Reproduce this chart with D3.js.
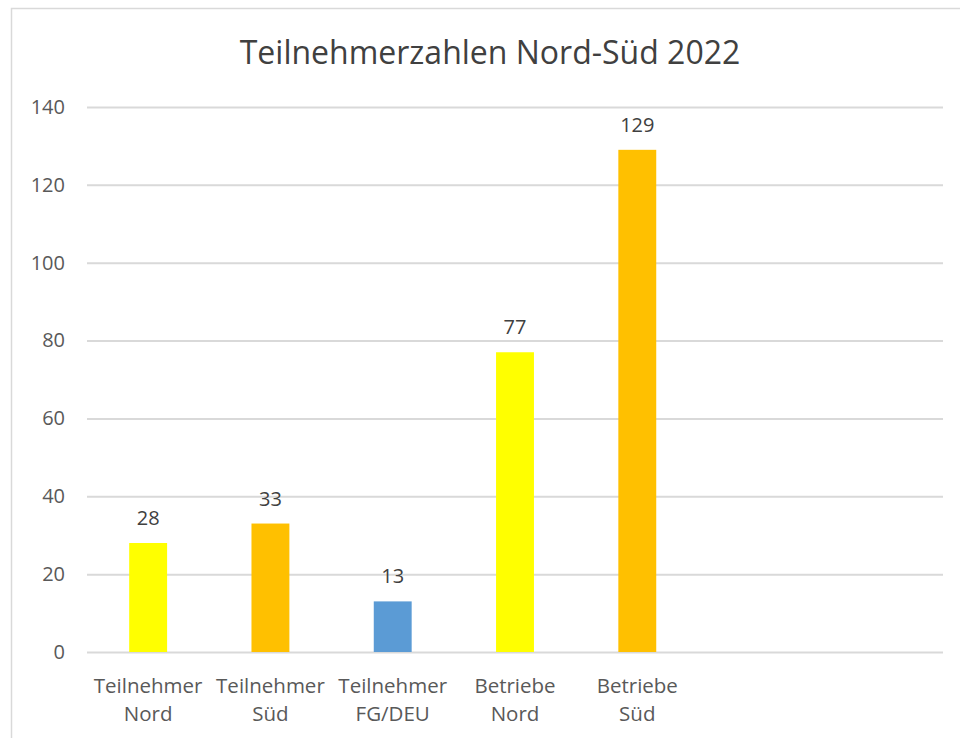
<!DOCTYPE html>
<html>
<head>
<meta charset="utf-8">
<script src="https://cdn.jsdelivr.net/npm/d3@7"></script>
<style>
  body { margin: 0; background: #fff; }
  svg { display: block; font-family: "Open Sans", sans-serif; }
</style>
</head>
<body>
<div id="chart"></div>
<script>
"use strict";

// categories (last two slots are empty in the original sheet)
const categories = ["Teilnehmer|Nord", "Teilnehmer|Süd", "Teilnehmer|FG/DEU", "Betriebe|Nord", "Betriebe|Süd", "", " "];
const values = [28, 33, 13, 77, 129, null, null];
const barColors = ["#FFFF00", "#FFC000", "#5B9BD5", "#FFFF00", "#FFC000", null, null];
const yTicks = [0, 20, 40, 60, 80, 100, 120, 140];
const title = "Teilnehmerzahlen Nord-Süd 2022";

const width = 960, height = 738;
const margin = { top: 107, right: 17, bottom: 86, left: 87 };
const plotW = width - margin.left - margin.right,
    plotH = height - margin.top - margin.bottom;

const svg = d3.select("#chart").append("svg")
    .attr("width", width)
    .attr("height", height);

// chart border
svg.append("rect")
    .attr("x", 11.5).attr("y", 8.5)
    .attr("width", 980).attr("height", 760)
    .attr("fill", "#fff")
    .attr("stroke", "#d9d9d9")
    .attr("stroke-width", 1.5);

svg.append("text")
    .attr("x", 490).attr("y", 64)
    .attr("text-anchor", "middle")
    .attr("font-size", 32)
    .attr("fill", "#404040")
    .text(title);

const g = svg.append("g")
    .attr("transform", `translate(${margin.left},${margin.top})`);

const x = d3.scaleBand()
    .domain(categories)
    .range([0, plotW])
    .paddingInner(0.69)
    .paddingOuter(0.345);

const y = d3.scaleLinear()
    .domain([0, 140])
    .range([plotH, 0]);

// gridlines + tick labels
const yAxis = g.append("g")
    .call(d3.axisLeft(y).tickValues(yTicks).tickSize(-plotW).tickPadding(22));
yAxis.select(".domain").remove();
yAxis.selectAll(".tick line").attr("stroke", "#d9d9d9").attr("stroke-width", 2);
yAxis.selectAll(".tick text")
    .attr("font-size", 20)
    .attr("fill", "#595959")
    .attr("font-family", "Open Sans, sans-serif");

// bars
const data = categories.map((c, i) => ({ cat: c, value: values[i], color: barColors[i] }))
    .filter(d => d.value != null);

g.selectAll(".bar")
    .data(data)
    .enter().append("rect")
    .attr("class", "bar")
    .attr("x", d => x(d.cat))
    .attr("y", d => y(d.value))
    .attr("width", x.bandwidth())
    .attr("height", d => y(0) - y(d.value))
    .attr("fill", d => d.color);

// value labels
g.selectAll(".label")
    .data(data)
    .enter().append("text")
    .attr("class", "label")
    .attr("x", d => x(d.cat) + x.bandwidth() / 2)
    .attr("y", d => y(d.value) - 18)
    .attr("text-anchor", "middle")
    .attr("font-size", 20)
    .attr("fill", "#404040")
    .text(d => d.value);

// category labels (two lines)
const xLabels = g.append("g")
    .attr("transform", `translate(0,${plotH})`)
    .selectAll("text")
    .data(categories.filter(c => c.trim() !== ""))
    .enter().append("text")
    .attr("x", d => x(d) + x.bandwidth() / 2)
    .attr("y", 41)
    .attr("text-anchor", "middle")
    .attr("font-size", 20.5)
    .attr("fill", "#595959");

xLabels.selectAll("tspan")
    .data(d => d.split("|"))
    .enter().append("tspan")
    .attr("x", function () { return d3.select(this.parentNode).attr("x"); })
    .attr("dy", (d, i) => i === 0 ? 0 : 28)
    .text(d => d);
</script>
</body>
</html>
